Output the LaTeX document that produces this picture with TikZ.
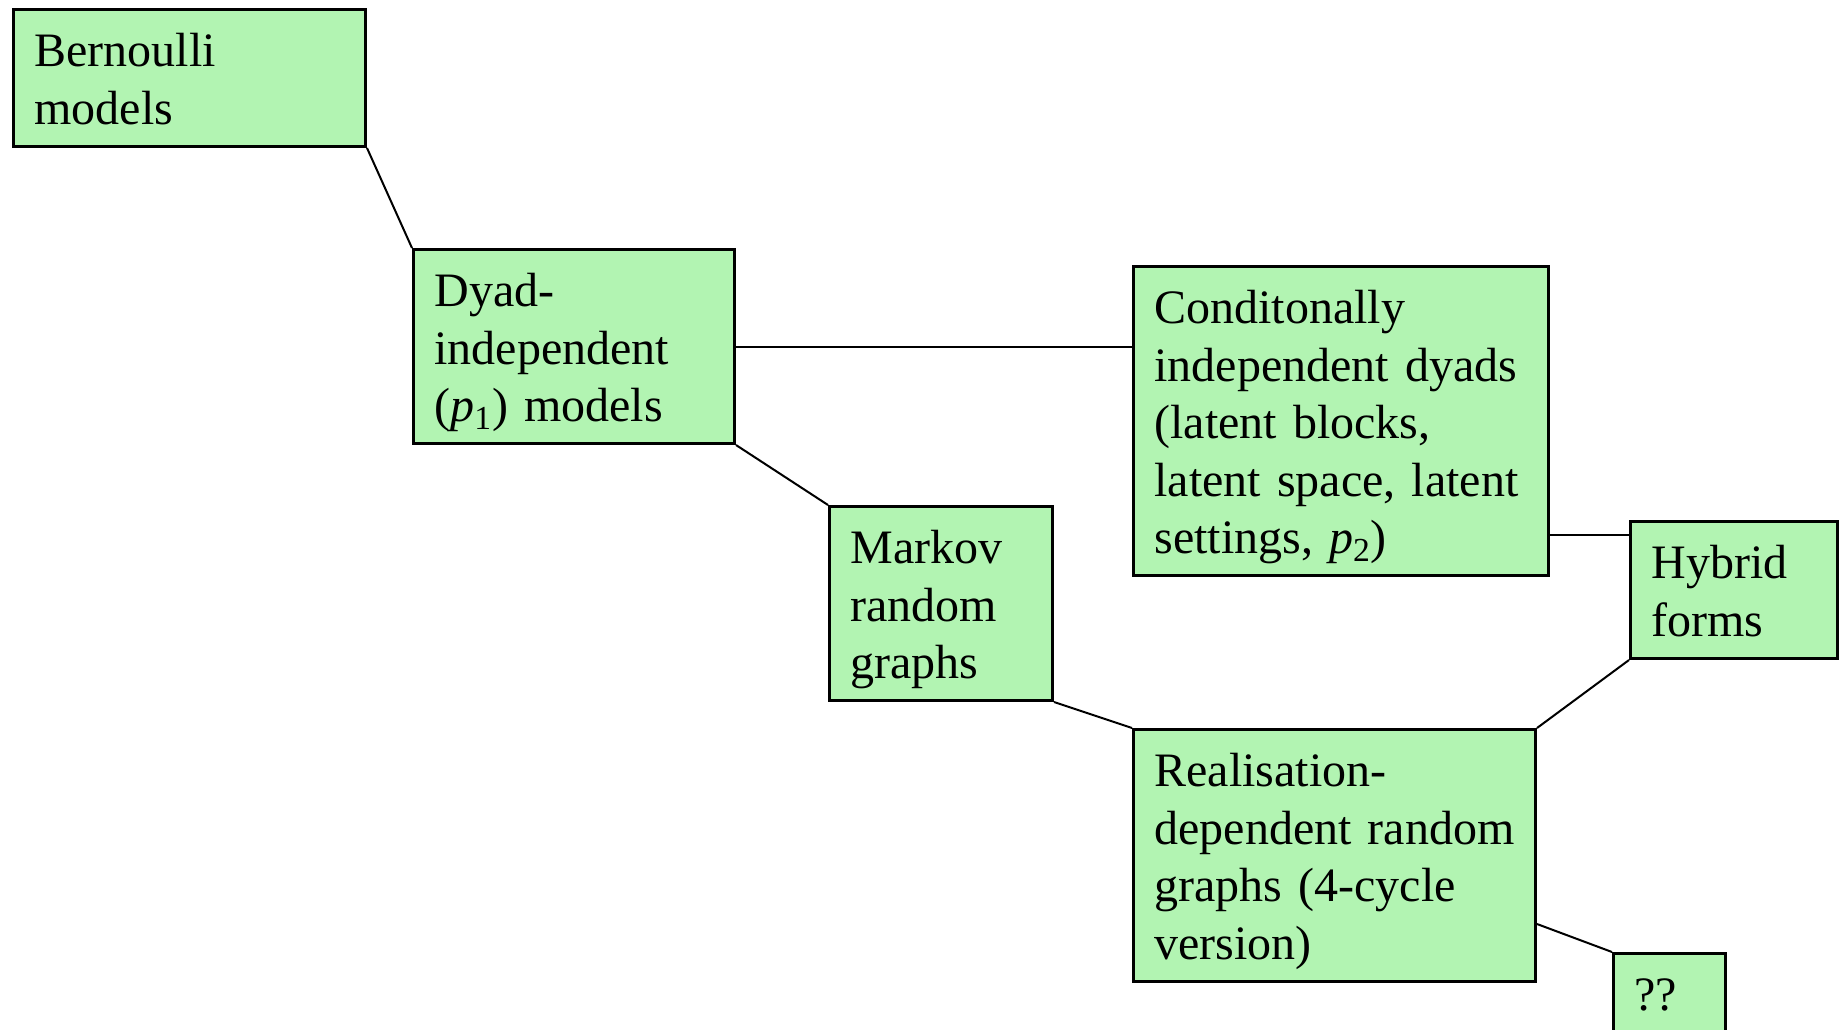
\documentclass[tikz,border=0pt]{standalone}
\usepackage{fontspec}
\setmainfont{Liberation Serif}
\usepackage{xcolor}
\usetikzlibrary{calc}

\definecolor{boxgreen}{RGB}{178,244,178}
\newcommand{\modelfont}{\fontsize{24}{28.8}\selectfont\hyphenpenalty=10000\relax}

\begin{document}
\begin{tikzpicture}[x=0.5pt,y=-0.5pt,
		model/.style={draw,line width=1.5pt,fill=boxgreen,anchor=north west,
			align=left,inner xsep=10.5pt,inner ysep=0pt,text height=28.5pt,
			font=\modelfont},
		link/.style={line width=1pt}]
	
	\useasboundingbox (0,0) rectangle (1845,1029);
	
	\node[model,text width=155pt,text depth=40pt] (bern) at (12,8) {Bernoulli\\models};
	\node[model,text width=139.5pt,text depth=68.5pt] (dyad) at (412,248) {Dyad-\\independent\\(\textit{p}\textsubscript{1}) models};
	\node[model,text width=186.5pt,text depth=126pt] (cond) at (1132,265) {Conditonally\\independent dyads\\(latent blocks,\\latent space, latent\\settings, \textit{p}\textsubscript{2})};
	\node[model,text width=90.5pt,text depth=68.5pt] (markov) at (828,505) {Markov\\random\\graphs};
	\node[model,text width=82.5pt,text depth=40pt] (hybrid) at (1629,520) {Hybrid\\forms};
	\node[model,text width=180pt,text depth=97.5pt] (real) at (1132,728) {Realisation-\\dependent random\\graphs (4-cycle\\version)};
	\node[model,text width=35pt,text depth=71.5pt] (unk) at (1612,952) {??};
	
	% links between the model families
	\draw[link] (bern.south east) -- (dyad.north west);
	\draw[link] (dyad.east) -- (dyad.east -| cond.west);
	\draw[link] (dyad.south east) -- (markov.north west);
	\draw[link] (markov.south east) -- (real.north west);
	\draw[link] ([yshift=-7.5pt]hybrid.north west) -- ([yshift=-7.5pt]hybrid.north west -| cond.east);
	\draw[link] (real.north east) -- (hybrid.south west);
	\draw[link] ([yshift=29.5pt]real.south east) -- (unk.north west);
\end{tikzpicture}
\end{document}
